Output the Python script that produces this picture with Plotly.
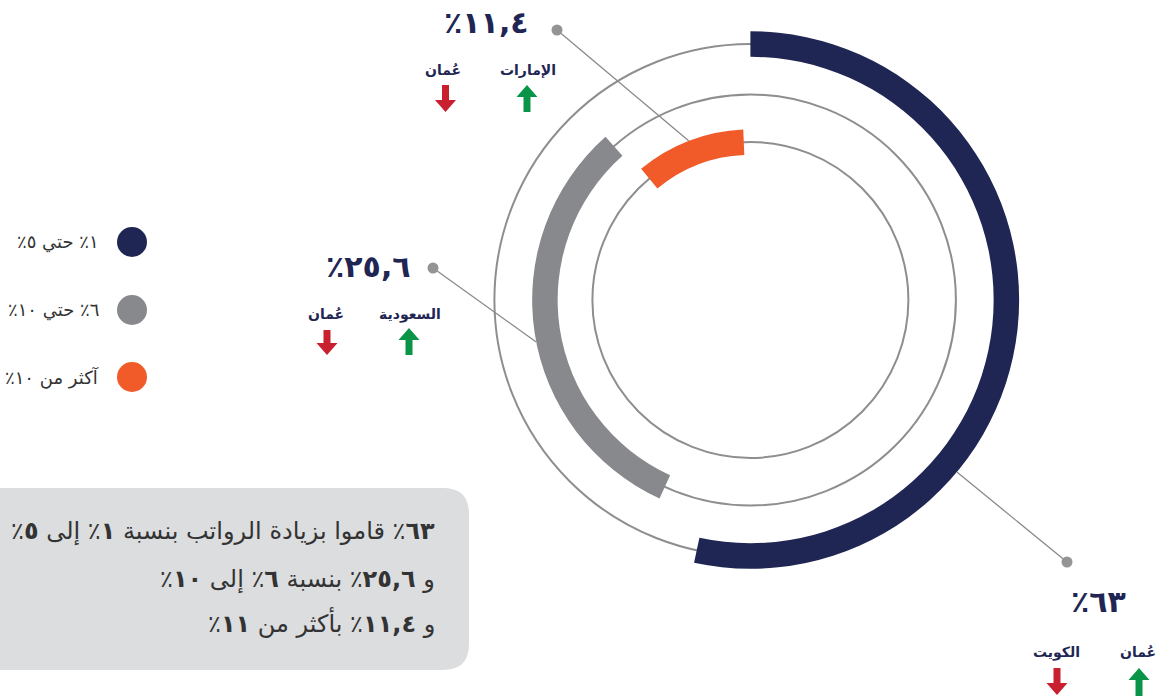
import math
import plotly.graph_objects as go

# ---------------- data ----------------
series_names = ["١٪ حتي ٥٪", "٦٪ حتي ١٠٪", "آكثر من ١٠٪"]
shares = [63, 25.6, 11.4]
share_labels = ["٦٣", "٢٥,٦", "١١,٤"]
up_country = ["عُمان", "السعودية", "الإمارات"]
down_country = ["الكويت", "عُمان", "عُمان"]
# arc extent of each ring as drawn in the picture (degrees clockwise from 12 o'clock)
arc_from_deg = [0, 204.6, 320.2]
arc_to_deg = [192.1, 318.4, 357.6]
summary_lines = [
    "<b>٦٣</b>٪ قاموا بزيادة الرواتب بنسبة <b>١</b>٪ إلى <b>٥</b>٪",
    "و <b>٢٥,٦</b>٪ بنسبة <b>٦</b>٪ إلى <b>١٠</b>٪",
    "و <b>١١,٤</b>٪ بأكثر من <b>١١</b>٪",
]

# ---------------- styles / layout ----------------
W, H = 1173, 698
colors = ["#1f2654", "#88898d", "#f15a29"]
NAVY = "#1f2654"
GREEN = "#0a9447"
RED = "#c92030"
RING_GRAY = "#8e8e8e"
FONT = "DejaVu Sans"
RLM = "\u200f"


def rtl(s):
    # right-to-left mark keeps the trailing percent sign on the RTL side
    if s.startswith("<b>"):
        s = "<b>" + RLM + s[3:]
    else:
        s = RLM + s
    return s + RLM


def px(x):
    return x / W


def py(y):
    return 1 - y / H


cx, cy = 750.4, 300.0
RMAX = 280.0
ring_r = [256.0, 205.5, 158.0]
band = 25.5

fig = go.Figure()

fig.add_trace(go.Barpolar(
    r=[band] * 3,
    base=[r - band / 2 for r in ring_r],
    theta=[(a + b) / 2 for a, b in zip(arc_from_deg, arc_to_deg)],
    width=[b - a for a, b in zip(arc_from_deg, arc_to_deg)],
    marker=dict(color=colors, line=dict(width=0)),
    text=series_names,
    customdata=shares,
    hovertemplate="%{text}: %{customdata}%<extra></extra>",
    showlegend=False,
))

fig.update_layout(
    width=W, height=H,
    margin=dict(l=0, r=0, t=0, b=0),
    paper_bgcolor="white",
    plot_bgcolor="white",
    font=dict(family=FONT, color="#333333"),
    polar=dict(
        domain=dict(x=[(cx - RMAX) / W, (cx + RMAX) / W],
                    y=[(H - cy - RMAX) / H, (H - cy + RMAX) / H]),
        bgcolor="rgba(0,0,0,0)",
        radialaxis=dict(range=[0, RMAX], tickvals=ring_r, showgrid=True,
                        gridcolor=RING_GRAY, gridwidth=1.6, showticklabels=False,
                        showline=False, ticks="", layer="below traces"),
        angularaxis=dict(rotation=90, direction="clockwise", showgrid=False,
                         showticklabels=False, showline=False, ticks="",
                         layer="below traces"),
    ),
)

shapes = []
annotations = []

# ---------- summary box ----------
bx0, bx1, by0, by1, rad = -40, 469, 488, 670, 26
path = (f"M {px(bx0)},{py(by0)} L {px(bx1 - rad)},{py(by0)} "
        f"Q {px(bx1)},{py(by0)} {px(bx1)},{py(by0 + rad)} "
        f"L {px(bx1)},{py(by1 - rad)} "
        f"Q {px(bx1)},{py(by1)} {px(bx1 - rad)},{py(by1)} "
        f"L {px(bx0)},{py(by1)} Z")
shapes.append(dict(type="path", xref="paper", yref="paper", path=path,
                   fillcolor="#dcdddf", line=dict(width=0), layer="below"))
for line, yc in zip(summary_lines, [531, 579, 622]):
    annotations.append(dict(text=rtl(line), x=px(437), y=py(yc), xref="paper", yref="paper",
                            xanchor="right", yanchor="middle", showarrow=False,
                            font=dict(size=24, color="#333333", family=FONT)))

# ---------- legend ----------
for name, col, yc in zip(series_names, colors, [242, 310, 377]):
    shapes.append(dict(type="circle", xref="paper", yref="paper",
                       x0=px(132 - 15), x1=px(132 + 15), y0=py(yc + 15), y1=py(yc - 15),
                       fillcolor=col, line=dict(width=0)))
    annotations.append(dict(text=rtl(name), x=px(101), y=py(yc), xref="paper", yref="paper",
                            xanchor="right", yanchor="middle", showarrow=False,
                            font=dict(size=18, color="#333333", family=FONT)))


# ---------- callouts ----------
def arrow(cxa, top, bottom, up, color):
    hw, sw, hh = 10.5, 3.5, 12
    if up:
        pts = [(cxa, top), (cxa + hw, top + hh), (cxa + sw, top + hh), (cxa + sw, bottom),
               (cxa - sw, bottom), (cxa - sw, top + hh), (cxa - hw, top + hh)]
    else:
        pts = [(cxa, bottom), (cxa + hw, bottom - hh), (cxa + sw, bottom - hh), (cxa + sw, top),
               (cxa - sw, top), (cxa - sw, bottom - hh), (cxa - hw, bottom - hh)]
    p = "M " + " L ".join(f"{px(x)},{py(y)}" for x, y in pts) + " Z"
    shapes.append(dict(type="path", xref="paper", yref="paper", path=p,
                       fillcolor=color, line=dict(width=0)))


callouts = [
    dict(lab=(1098, 601), dot=(1067, 562), ang=129.8,
         up=(1138, 652), down=(1056, 652), up_ar=(1139, 668, 696), dn_ar=(1057, 668, 695)),
    dict(lab=(368, 266), dot=(433, 268), ang=258.9,
         up=(410, 314), down=(326, 314), up_ar=(409, 328, 355), dn_ar=(327, 330, 355)),
    dict(lab=(486, 22), dot=(557, 30), ang=338.8,
         up=(528, 70), down=(443, 70), up_ar=(527, 85, 112), dn_ar=(445.5, 85, 112)),
]

for i, c in enumerate(callouts):
    r_out = ring_r[i] + band / 2
    th = math.radians(c["ang"])
    ex, ey = cx + r_out * math.sin(th), cy - r_out * math.cos(th)
    dx, dy = c["dot"]
    shapes.append(dict(type="line", xref="paper", yref="paper",
                       x0=px(dx), y0=py(dy), x1=px(ex), y1=py(ey),
                       line=dict(color="#8a8a8a", width=1.3)))
    shapes.append(dict(type="circle", xref="paper", yref="paper",
                       x0=px(dx - 5.5), x1=px(dx + 5.5), y0=py(dy + 5.5), y1=py(dy - 5.5),
                       fillcolor="#949494", line=dict(width=0)))
    # Arabic percent sign placed first so it renders on the left (RTL reading)
    annotations.append(dict(text="<b>٪" + share_labels[i] + "</b>",
                            x=px(c["lab"][0]), y=py(c["lab"][1]), xref="paper", yref="paper",
                            xanchor="center", yanchor="middle", showarrow=False,
                            font=dict(size=30, color=NAVY, family=FONT)))
    annotations.append(dict(text="<b>" + up_country[i] + "</b>",
                            x=px(c["up"][0]), y=py(c["up"][1]), xref="paper", yref="paper",
                            xanchor="center", yanchor="middle", showarrow=False,
                            font=dict(size=14, color=NAVY, family=FONT)))
    annotations.append(dict(text="<b>" + down_country[i] + "</b>",
                            x=px(c["down"][0]), y=py(c["down"][1]), xref="paper", yref="paper",
                            xanchor="center", yanchor="middle", showarrow=False,
                            font=dict(size=14, color=NAVY, family=FONT)))
    arrow(*c["up_ar"], True, GREEN)
    arrow(*c["dn_ar"], False, RED)

fig.update_layout(shapes=shapes, annotations=annotations)
fig.write_html("out.html", config={"displayModeBar": False},
               post_script="document.body.style.margin='0px';")
